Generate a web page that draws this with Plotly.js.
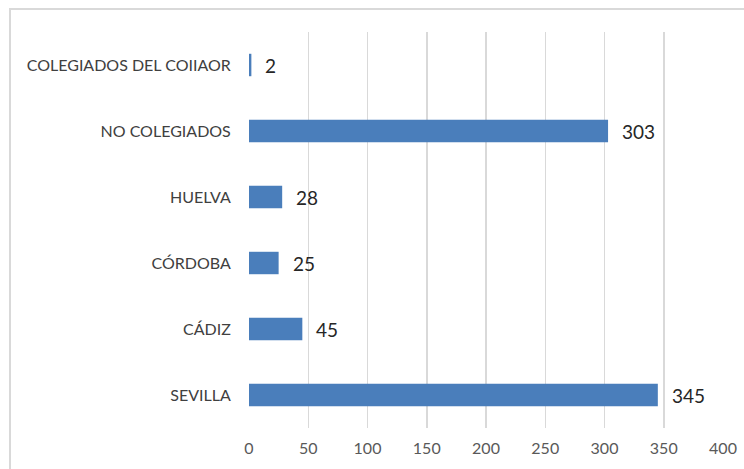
<!DOCTYPE html>
<html>
<head>
<meta charset="utf-8">
<script src="https://cdn.plot.ly/plotly-3.0.1.min.js"></script>
<style>html,body{margin:0;padding:0;background:#fff;}#chart{width:744px;height:469px;}</style>
</head>
<body>
<div id="chart"></div>
<script>
const categories = ["SEVILLA", "CÁDIZ", "CÓRDOBA", "HUELVA", "NO COLEGIADOS", "COLEGIADOS DEL COIIAOR"];
const values = [345, 45, 25, 28, 303, 2];
const xTicks = [0, 50, 100, 150, 200, 250, 300, 350, 400];

const FONT = 'Lato, Open Sans, sans-serif';

const trace = {
  type: 'bar',
  orientation: 'h',
  y: categories,
  x: values,
  marker: {color: '#4a7ebb'},
  hoverinfo: 'none'
};

const annotations = categories.map((c, i) => ({
  x: values[i], y: c, xref: 'x', yref: 'y',
  text: String(values[i]), showarrow: false,
  xanchor: 'left', yanchor: 'middle', xshift: 12, yshift: 0,
  font: {family: FONT, size: 19, color: '#262626'}
}));

const layout = {
  width: 744, height: 469,
  margin: {l: 249, r: 21, t: 32, b: 41},
  paper_bgcolor: '#fff', plot_bgcolor: '#fff',
  showlegend: false,
  bargap: 0.66,
  font: {family: FONT, color: '#595959'},
  xaxis: {
    range: [0, 400],
    tickvals: xTicks,
    ticktext: xTicks.map(String),
    showgrid: true, gridcolor: '#d9d9d9', gridwidth: 1.5,
    zeroline: false, showline: false,
    tickfont: {size: 16, color: '#595959'},
    ticks: 'outside', ticklen: 6, tickcolor: 'rgba(0,0,0,0)',
    fixedrange: true
  },
  yaxis: {
    type: 'category',
    tickfont: {size: 16, color: '#404040'},
    ticks: 'outside', ticklen: 14, tickcolor: 'rgba(0,0,0,0)',
    showgrid: false, zeroline: false, showline: false,
    fixedrange: true
  },
  annotations: annotations,
  shapes: [
    {type: 'rect', xref: 'paper', yref: 'paper',
     x0: (10 - 249) / 474, x1: (760 - 249) / 474,
     y0: (428 - 480) / 396, y1: (428 - 9) / 396,
     line: {color: '#d9d9d9', width: 2}, fillcolor: 'rgba(0,0,0,0)', layer: 'below'}
  ]
};

Plotly.newPlot('chart', [trace], layout, {displayModeBar: false, staticPlot: true});
</script>
</body>
</html>
